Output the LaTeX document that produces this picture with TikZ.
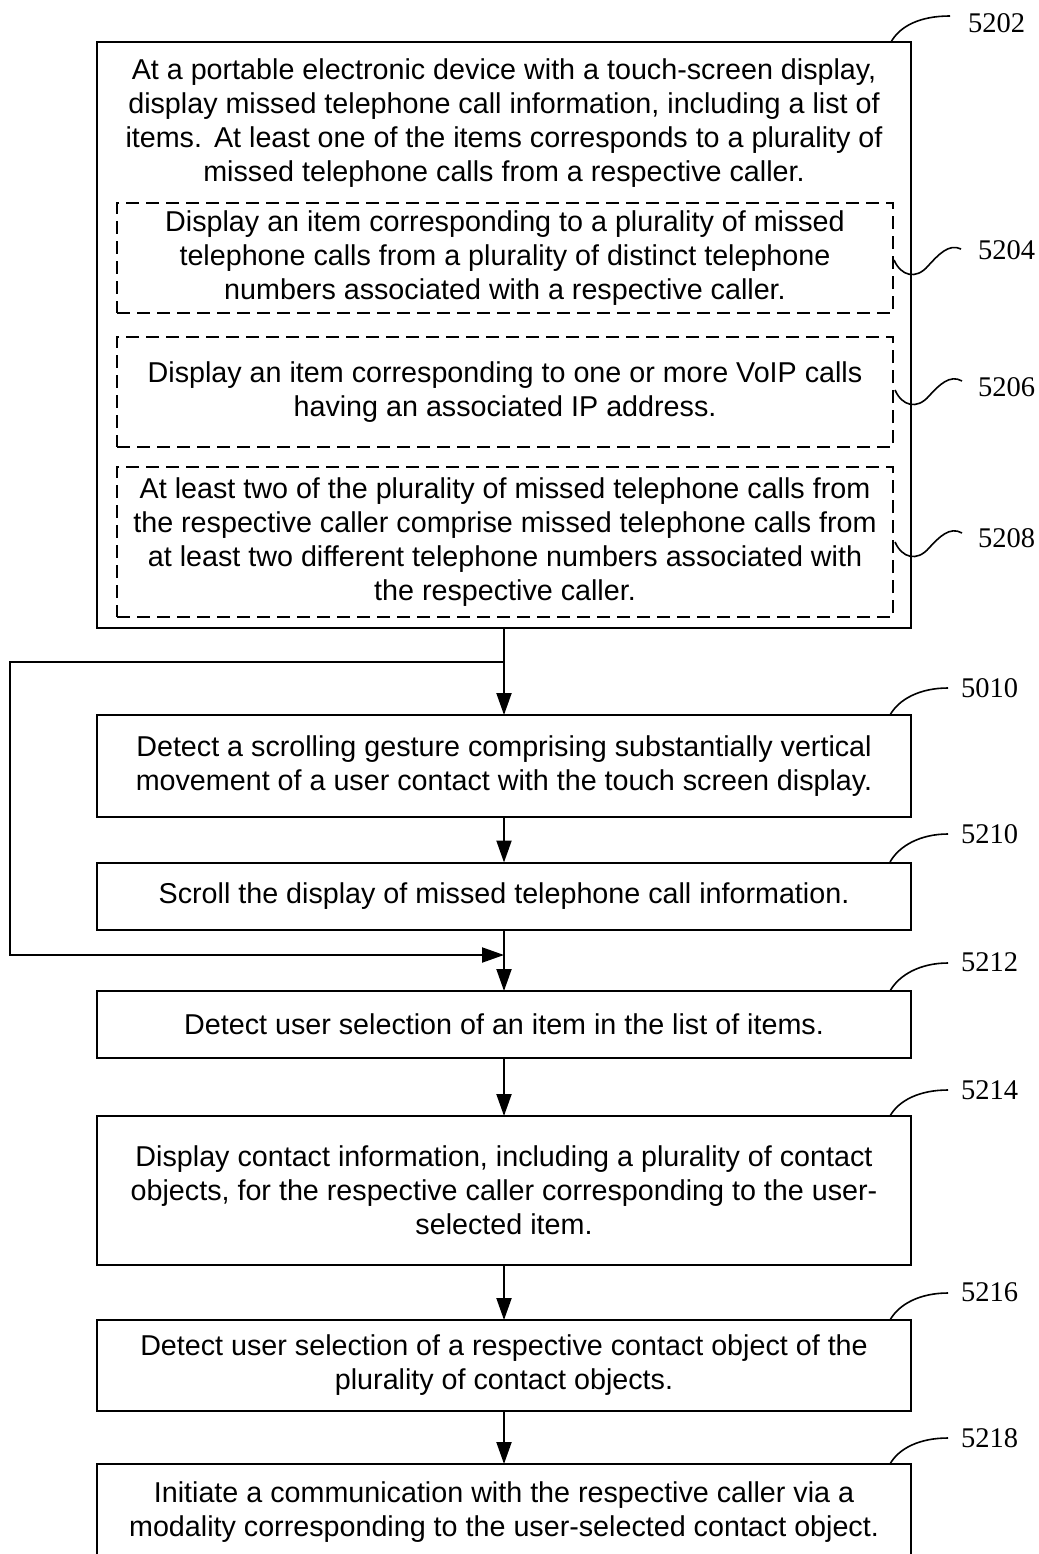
\documentclass[tikz,border=0pt]{standalone}
\usepackage{fontspec}
\setmainfont{Liberation Sans}
\newfontfamily\reflabelfont{Liberation Serif}
\usetikzlibrary{arrows.meta}
\begin{document}
\begin{tikzpicture}[x=1pt,y=-1pt,
  every node/.style={inner sep=0pt, outer sep=0pt},
  txt/.style={align=center, font=\fontsize{28.7}{34}\selectfont},
  box/.style={txt, draw, line width=2pt, minimum width=814pt},
  dbox/.style={txt, draw, line width=1.8pt, dash pattern=on 13pt off 7pt, minimum width=776pt},
  arr/.style={line width=2pt, -{Triangle[length=22pt,width=15pt]}},
  lead/.style={line width=1.6pt},
  num/.style={anchor=west, font=\reflabelfont\fontsize{28.5}{30}\selectfont}]
\useasboundingbox (0,0) rectangle (1038,1554);
\clip (0,0) rectangle (1038,1554);

% outer box 5202
\node[box, minimum height=586pt] (b5202) at (504,335) {};
\node[txt] (t5202) at (504,123) {At a portable electronic device with a touch-screen display,\\
display missed telephone call information, including a list of\\
items.\hspace{12pt}At least one of the items corresponds to a plurality of\\
missed telephone calls from a respective caller.};
\node[dbox, minimum height=110pt] (d5204) at (505,258) {Display an item corresponding to a plurality of missed\\
telephone calls from a plurality of distinct telephone\\
numbers associated with a respective caller.};
\node[dbox, minimum height=110pt] (d5206) at (505,392) {Display an item corresponding to one or more VoIP calls\\
having an associated IP address.};
\node[dbox, minimum height=150pt] (d5208) at (505,542) {At least two of the plurality of missed telephone calls from\\
the respective caller comprise missed telephone calls from\\
at least two different telephone numbers associated with\\
the respective caller.};

% flow boxes
\node[box, minimum height=102pt] (b5010) at (504,766) {Detect a scrolling gesture comprising substantially vertical\\
movement of a user contact with the touch screen display.};
\node[box, minimum height=67pt] (b5210) at (504,896) {Scroll the display of missed telephone call information.};
\node[box, minimum height=67pt] (b5212) at (504,1024.5) {Detect user selection of an item in the list of items.};
\node[box, minimum height=149pt] (b5214) at (504,1190.5) {Display contact information, including a plurality of contact\\
objects, for the respective caller corresponding to the user-\\
selected item.};
\node[box, minimum height=91pt] (b5216) at (504,1365.5) {Detect user selection of a respective contact object of the\\
plurality of contact objects.};
\node[box, minimum height=96pt] (b5218) at (504,1512) {Initiate a communication with the respective caller via a\\
modality corresponding to the user-selected contact object.};

% connectors
\coordinate (j1) at (504,662);
\coordinate (c1) at (10,662);
\coordinate (c2) at (10,955);
\coordinate (j2) at (504,955);
\draw[arr] (b5202.south) -- (b5010.north);
\draw[arr] (b5010.south) -- (b5210.north);
\draw[arr] (b5210.south) -- (b5212.north);
\draw[arr] (b5212.south) -- (b5214.north);
\draw[arr] (b5214.south) -- (b5216.north);
\draw[arr] (b5216.south) -- (b5218.north);
\draw[arr] (j1) -- (c1) -- (c2) -- (j2);

% reference numerals
\node[num] (n5202) at (968,23) {5202};
\draw[lead] (891,42) .. controls (900,26) and (920,16) .. (950,16);
\node[num] (n5010) at (961,688) {5010};
\draw[lead] (890,715) .. controls (899,699) and (920,688) .. (948,688);
\node[num] (n5210) at (961,834) {5210};
\draw[lead] (890,862) .. controls (899,846) and (920,834) .. (948,834);
\node[num] (n5212) at (961,962) {5212};
\draw[lead] (890,991) .. controls (899,975) and (920,963) .. (948,963);
\node[num] (n5214) at (961,1090) {5214};
\draw[lead] (890,1116) .. controls (899,1100) and (920,1090) .. (948,1090);
\node[num] (n5216) at (961,1292) {5216};
\draw[lead] (890,1320) .. controls (899,1304) and (920,1293) .. (948,1293);
\node[num] (n5218) at (961,1438) {5218};
\draw[lead] (890,1464) .. controls (899,1448) and (920,1438) .. (948,1438);

\node[num] (n5204) at (978,250) {5204};
\draw[lead] (894,260) .. controls (901,276) and (916,280) .. (928,266) .. controls (938,255) and (949,243) .. (961,249);
\node[num] (n5206) at (978,387) {5206};
\draw[lead] (895,390) .. controls (902,406) and (917,410) .. (929,396) .. controls (939,385) and (950,374) .. (962,381);
\node[num] (n5208) at (978,538) {5208};
\draw[lead] (895,542) .. controls (902,558) and (917,562) .. (929,548) .. controls (939,537) and (950,526) .. (962,533);
\end{tikzpicture}
\end{document}
